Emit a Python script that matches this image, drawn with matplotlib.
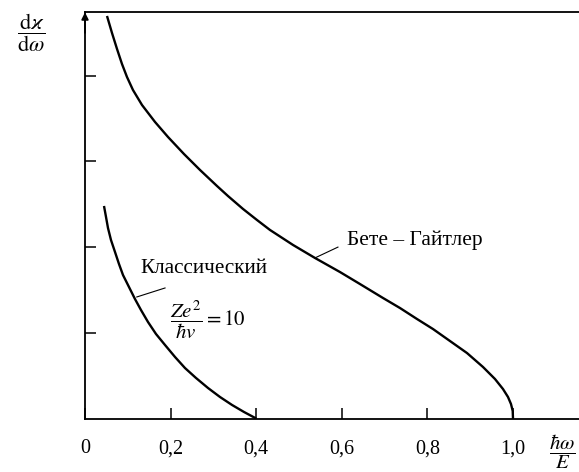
import matplotlib
matplotlib.use("Agg")
import matplotlib.pyplot as plt

plt.rcParams['font.family'] = ['Liberation Serif', 'DejaVu Serif']
plt.rcParams['mathtext.fontset'] = 'stix'

# Bethe-Heitler curve
bh_x = [0.0514, 0.0631, 0.0748, 0.0864, 0.0981, 0.1121, 0.1332, 0.1636, 0.1939,
        0.2313, 0.2687, 0.3084, 0.3341, 0.3692, 0.4019, 0.4322, 0.4860, 0.5374,
        0.5958, 0.6425, 0.6963, 0.7360, 0.7757, 0.8131, 0.8528, 0.8925, 0.9299,
        0.9579, 0.9766, 0.9883, 0.9953, 0.9993, 1.0]
bh_y = [4.697, 4.498, 4.312, 4.137, 3.985, 3.833, 3.658, 3.460, 3.285,
        3.086, 2.900, 2.713, 2.596, 2.445, 2.316, 2.200, 2.025, 1.873,
        1.709, 1.569, 1.406, 1.289, 1.161, 1.044, 0.904, 0.764, 0.601,
        0.461, 0.344, 0.251, 0.169, 0.088, 0.0]

# classical curve, Ze^2/(hbar v) = 10
cl_x = [0.0444, 0.0491, 0.0537, 0.0607, 0.0701, 0.0794, 0.0888, 0.1028, 0.1168,
        0.1308, 0.1472, 0.1659, 0.1869, 0.2103, 0.2336, 0.2593, 0.2874, 0.3154,
        0.3435, 0.3715, 0.400]
cl_y = [2.480, 2.351, 2.223, 2.083, 1.943, 1.803, 1.674, 1.534, 1.394,
        1.266, 1.126, 0.986, 0.858, 0.718, 0.589, 0.473, 0.356, 0.251,
        0.158, 0.076, 0.0]

xticks = [0, 0.2, 0.4, 0.6, 0.8, 1.0]
xticklabels = ['0', '0,2', '0,4', '0,6', '0,8', '1,0']
yticks = [1, 2, 3, 4]

W, H = 579, 472
fig = plt.figure(figsize=(W / 100, H / 100), dpi=100)
x0, y0, xtop = 85, 418.5, 12.3
ax = fig.add_axes([x0 / W, (H - y0) / H, (W - x0) / W, (y0 - xtop) / H])

ax.plot(bh_x, bh_y, color='black', lw=1.7, solid_capstyle='butt', solid_joinstyle='round')
ax.plot(cl_x, cl_y, color='black', lw=1.7, solid_capstyle='butt', solid_joinstyle='round')

ax.set_xlim(0, (W - x0) / 428)
ax.set_ylim(0, (y0 - xtop) / 85.7)

for s in ['left', 'bottom', 'top']:
    ax.spines[s].set_linewidth(1.3)
ax.spines['right'].set_visible(False)

ax.set_xticks(xticks)
ax.set_xticklabels(xticklabels, fontsize=14.5)
ax.set_yticks(yticks)
ax.set_yticklabels([])
ax.tick_params(axis='both', direction='in', length=8, width=1.1, pad=15)
ax.tick_params(axis='y', left=True, right=False)

# arrow on y axis
ax.annotate('', xy=(0, 4.74), xytext=(0, 4.5),
            arrowprops=dict(arrowstyle='-|>', color='black', lw=1.3,
                            mutation_scale=10, shrinkA=0, shrinkB=0),
            annotation_clip=False)

# leader lines and labels
ax.plot([0.537, 0.591], [1.873, 2.0], color='black', lw=0.8)
ax.text(0.612, 2.083, 'Бете – Гайтлер', fontsize=15.5, va='center', ha='left')
ax.plot([0.121, 0.187], [1.418, 1.523], color='black', lw=0.8)
ax.text(0.1285, 1.756, 'Классический', fontsize=15.3, va='center', ha='left')
ax.text(0.199, 1.149, r'$\dfrac{Ze^2}{\hbar v}=10$', fontsize=15, va='center', ha='left')

fig.text(31 / W, 1 - 33 / H, r'$\dfrac{\mathrm{d}\varkappa}{\mathrm{d}\omega}$',
         fontsize=16, ha='center', va='center')
fig.text(562 / W, 1 - 452 / H, r'$\dfrac{\hbar\omega}{E}$',
         fontsize=15, ha='center', va='center')

fig.savefig('out.png', dpi=100)
